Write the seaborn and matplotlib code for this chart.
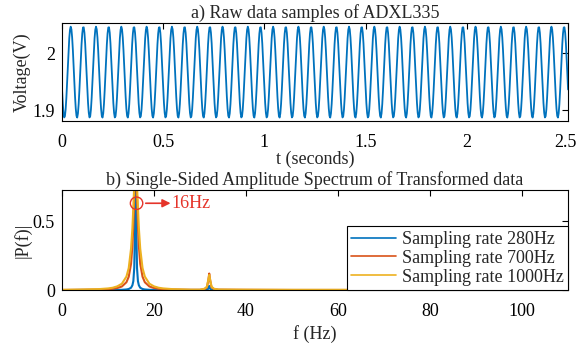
import numpy as np
import pandas as pd
import seaborn as sns
import matplotlib
matplotlib.use("Agg")
import matplotlib.pyplot as plt
from matplotlib.patches import Ellipse
from matplotlib.transforms import ScaledTranslation

# ---------------- data ----------------
# raw accelerometer signal
signal_freq_hz = 16.0
signal_mean_v = 1.967
signal_amp_v = 0.080
first_peak_s = 0.043
raw_sample_rate = 280.0
duration_s = 2.5

# spectrum
freq_hz = [0, 4, 8, 10, 11, 12, 13, 14, 14.5, 15, 15.3, 15.5, 15.7, 15.85, 16,
           16.15, 16.3, 16.5, 16.7, 17, 17.5, 18, 19, 20, 21, 22, 24, 28, 30,
           31, 31.5, 31.8, 32, 32.2, 32.5, 33, 34, 40, 50, 60, 80, 110]
amp_280 = [0.000, 0.001, 0.001, 0.001, 0.001, 0.002, 0.002, 0.0045, 0.008, 0.017,
           0.035, 0.065, 0.16, 0.45, 0.90, 0.45, 0.16, 0.065, 0.035, 0.017, 0.008,
           0.0045, 0.002, 0.002, 0.001, 0.001, 0.001, 0.001, 0.001, 0.001, 0.003,
           0.010, 0.030, 0.010, 0.003, 0.001, 0.001, 0.000, 0.000, 0.000, 0.000, 0.000]
amp_700 = [0.001, 0.002, 0.004, 0.0067, 0.0097, 0.015, 0.026, 0.057, 0.097, 0.19,
           0.32, 0.47, 0.68, 0.83, 0.90, 0.83, 0.68, 0.47, 0.32, 0.19, 0.097,
           0.057, 0.026, 0.015, 0.0097, 0.0067, 0.004, 0.002, 0.002, 0.008, 0.02,
           0.07, 0.12, 0.07, 0.02, 0.008, 0.003, 0.002, 0.001, 0.001, 0.001, 0.001]
amp_1000 = [0.002, 0.004, 0.007, 0.012, 0.017, 0.027, 0.046, 0.098, 0.16, 0.30,
            0.45, 0.60, 0.76, 0.86, 0.90, 0.86, 0.76, 0.60, 0.45, 0.30, 0.16,
            0.098, 0.046, 0.027, 0.017, 0.012, 0.007, 0.003, 0.003, 0.010, 0.025,
            0.075, 0.11, 0.075, 0.025, 0.010, 0.004, 0.003, 0.002, 0.002, 0.002, 0.002]
series_names = ["Sampling rate 280Hz", "Sampling rate 700Hz", "Sampling rate 1000Hz"]
series_colors = ["#0072BD", "#D95319", "#EDB120"]
peak_label = "16Hz"

# ---------------- style ----------------
FS = 13
sns.set_style("white")
plt.rcParams["font.family"] = ["Liberation Serif", "DejaVu Serif"]
plt.rcParams["font.size"] = FS
plt.rcParams["axes.edgecolor"] = "black"
plt.rcParams["axes.linewidth"] = 0.8

fig = plt.figure(figsize=(5.77, 3.47), dpi=100)
ax1 = fig.add_axes([0.1075, 0.651, 0.877, 0.282])
ax2 = fig.add_axes([0.1075, 0.164, 0.877, 0.288])

# panel a
t = np.arange(0, duration_s + 1e-9, 1.0 / raw_sample_rate)
v = signal_mean_v + signal_amp_v * np.cos(2 * np.pi * signal_freq_hz * (t - first_peak_s))
raw_df = pd.DataFrame({"t": t, "v": v})
sns.lineplot(data=raw_df, x="t", y="v", ax=ax1, color="#0072BD", lw=1.3,
             estimator=None, sort=False)
ax1.set_xlim(0, 2.5)
ax1.set_ylim(1.881, 2.053)
ax1.set_xticks([0, 0.5, 1, 1.5, 2, 2.5])
ax1.set_xticklabels(["0", "0.5", "1", "1.5", "2", "2.5"])
ax1.set_yticks([1.9, 2.0])
ax1.set_yticklabels(["1.9", "2"])
ax1.set_xlabel("t (seconds)", labelpad=0)
ax1.set_ylabel("Voltage(V)", labelpad=1)
ax1.set_title("a) Raw data samples of ADXL335", fontsize=FS, pad=3.5)

# panel b
rows = []
for name, amps in zip(series_names, [amp_280, amp_700, amp_1000]):
    for f, a in zip(freq_hz, amps):
        rows.append((name, f, a))
spec_df = pd.DataFrame(rows, columns=["series", "f", "P"])
sns.lineplot(data=spec_df, x="f", y="P", hue="series", hue_order=series_names,
             palette=series_colors, ax=ax2, lw=1.5, estimator=None, sort=False)
ax2.set_xlim(0, 110)
ax2.set_ylim(0, 0.725)
ax2.set_xticks([0, 20, 40, 60, 80, 100])
ax2.set_yticks([0, 0.5])
ax2.set_yticklabels(["0", "0.5"])
ax2.set_xlabel("f (Hz)", labelpad=4)
ax2.set_ylabel("|P(f)|", labelpad=1)
ax2.set_title("b) Single-Sided Amplitude Spectrum of Transformed data", fontsize=FS, pad=4)

leg = ax2.legend(loc="lower right", fancybox=False, framealpha=1, edgecolor="black",
                 borderpad=0.25, handlelength=2.5, handletextpad=0.3, labelspacing=0.1,
                 borderaxespad=0, fontsize=FS)
leg.get_frame().set_linewidth(0.8)
for line in leg.get_lines():
    line.set_linewidth(1.2)

red = "#E5342A"
circ = Ellipse((16.2, 0.63), width=2.7, height=0.09, fill=False, edgecolor=red, lw=1.0,
               zorder=5)
ax2.add_patch(circ)
ax2.annotate("", xy=(24.2, 0.63), xytext=(17.6, 0.63),
             arrowprops=dict(arrowstyle="-|>", color=red, lw=1.2, mutation_scale=12),
             zorder=6)
ax2.text(23.8, 0.63, peak_label, color=red, fontsize=FS, va="center", ha="left")

for ax in (ax1, ax2):
    ax.tick_params(direction="in", top=True, right=True, length=4, width=0.8,
                   colors="black", labelsize=FS, pad=9)
    ax.tick_params(axis="y", pad=5)
    for s in ax.spines.values():
        s.set_visible(True)
        s.set_color("black")
        s.set_linewidth(0.8)

# keep the last top-panel tick label inside the canvas
last = ax1.get_xticklabels()[-1]
last.set_transform(last.get_transform() + ScaledTranslation(-3 / 100, 0, fig.dpi_scale_trans))

fig.savefig("out.png", dpi=100)
